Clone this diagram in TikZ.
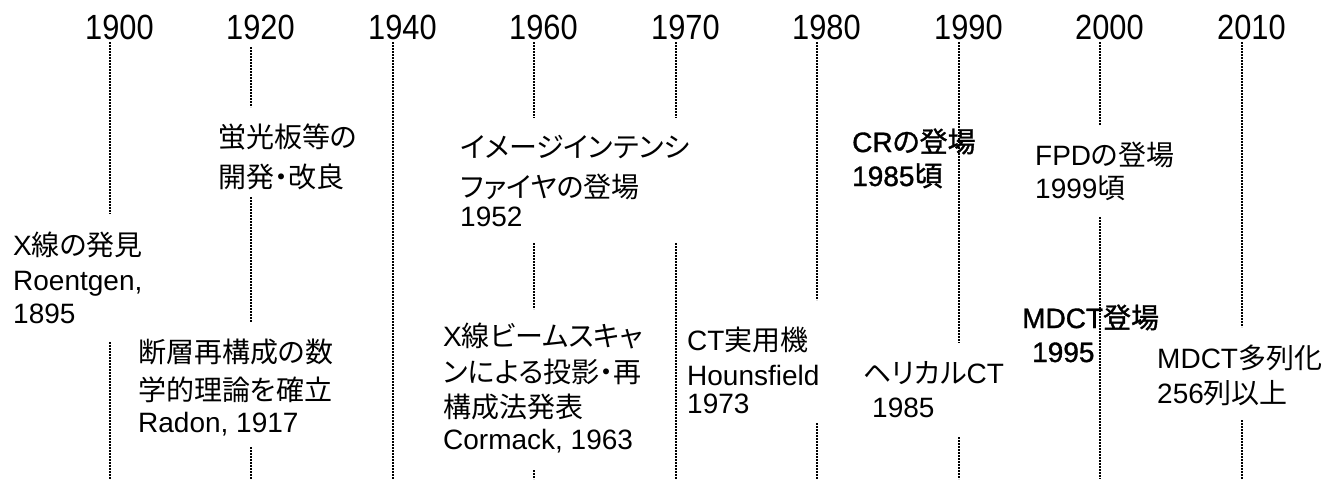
\documentclass[tikz,border=0pt]{standalone}
\usepackage{graphicx}
\usepackage{fontspec}
\setmainfont{Liberation Sans}
\newfontfamily\jp[RawFeature=+palt]{Noto Sans CJK JP}
\newfontfamily\sbf[FakeBold=1.2]{Liberation Sans}
\newfontfamily\jpsbf[FakeBold=1.2,RawFeature=+palt]{Noto Sans CJK JP}
\newcommand\J[1]{{\jp #1}}
\newcommand\JB[1]{{\jpsbf #1}}
\begin{document}
\begin{tikzpicture}[x=1pt,y=-1pt,
  year/.style={anchor=base west, inner sep=0pt, font=\fontsize{35}{40}\selectfont},
  ev/.style={anchor=base west, inner sep=0pt, align=left, font=\fontsize{28}{34}\selectfont},
  evb/.style={ev, font=\fontsize{28}{34}\sbf},
  tick/.style={line width=1.9pt, dash pattern=on 1.6pt off 1.4pt}]
\useasboundingbox (0,0) rectangle (1338,480);
% year labels
\foreach \x/\y in {110/1900,251/1920,393/1940,534/1960,676/1970,817/1980,959/1990,1100/2000,1242/2010}
  \node[year] (y\y) at (\x-25,39) {\scalebox{0.88}[1]{\y}};
% dotted year lines
\foreach \x/\a/\b in {110/42/214, 110/342/479,
  251/47/107, 251/197/322, 251/447/479,
  393/42/479,
  534/42/118, 534/243/309, 534/470/479,
  676/42/118, 676/243/479,
  817/42/300, 817/423/479,
  959/42/343, 959/437/479,
  1100/42/125, 1100/217/479,
  1242/42/327, 1242/420/479}
  \draw[tick] (\x,\a) -- (\x,\b);
% events (anchor = baseline of the last line)
\node[ev] (xray) at (13,323) {X\J{線の発見}\\[1pt]Roentgen,\\[-1pt]1895};
\node[ev] (fluor) at (218,187) {\J{蛍光板等の}\\[6pt]\J{開発・改良}};
\node[ev] (radon) at (138,432) {\J{断層再構成の数}\\[4pt]\J{学的理論を確立}\\[-2pt]Radon, 1917};
\node[ev] (ii) at (460,226) {\J{イメージインテンシ}\\[6pt]\J{ファイヤの登場}\\[-5pt]1952};
\node[ev] (cormack) at (443,449) {X\J{線ビームスキャ}\\[2pt]\J{ンによる投影・再}\\[1pt]\J{構成法発表}\\[-2pt]Cormack, 1963};
\node[ev] (ct) at (687,413) {CT\J{実用機}\\[1pt]Hounsfield\\[-6pt]1973};
\node[evb] (cr) at (852,186) {CR\JB{の登場}\\1985\JB{頃}};
\node[ev] (fpd) at (1035,198) {FPD\J{の登場}\\[-1pt]1999\J{頃}};
\node[ev] (helical) at (863,417) {\J{ヘリカル}CT\\\hspace*{9pt}1985};
\node[evb] (mdct) at (1022,362) {MDCT\JB{登場}\\\hspace*{10pt}1995};
\node[ev] (multi) at (1157,403) {MDCT\J{多列化}\\[1pt]256\J{列以上}};
\end{tikzpicture}
\end{document}
